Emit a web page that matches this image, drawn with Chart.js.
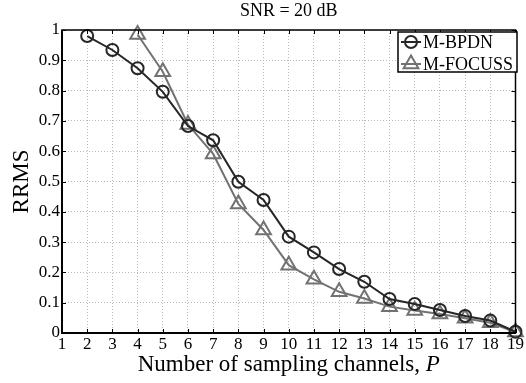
<!DOCTYPE html>
<html>
<head>
<meta charset="utf-8">
<script src="https://cdn.jsdelivr.net/npm/chart.js@4/dist/chart.umd.min.js"></script>
<style>
  body { margin: 0; background: #fff; }
  #wrap { width: 526px; height: 383px; }
</style>
</head>
<body>
<div id="wrap"><canvas id="myChart" width="526" height="383"></canvas></div>
<script>
// values
var bpdnP = [2, 3, 4, 5, 6, 7, 8, 9, 10, 11, 12, 13, 14, 15, 16, 17, 18, 19];
var bpdnY = [0.98, 0.934, 0.874, 0.796, 0.683, 0.636, 0.499, 0.439, 0.318, 0.266, 0.211, 0.169, 0.112, 0.096, 0.076, 0.056, 0.041, 0.004];
var focussP = [4, 5, 6, 7, 8, 9, 10, 11, 12, 13, 14, 15, 16, 17, 18, 19];
var focussY = [0.985, 0.862, 0.688, 0.591, 0.426, 0.34, 0.224, 0.177, 0.136, 0.114, 0.087, 0.074, 0.063, 0.049, 0.034, 0.003];
var seriesNames = ["M-BPDN", "M-FOCUSS"];
var titleText = "SNR = 20 dB";
var xTitle = "Number of sampling channels, ";
var yTitle = "RRMS";

var serif = "'Liberation Serif', 'DejaVu Serif', serif";
var darkCol = "#262626";
var greyCol = "#727272";

function toPoints(xs, ys) {
  var pts = [];
  for (var i = 0; i < xs.length; i++) pts.push({x: xs[i], y: ys[i]});
  return pts;
}

var extras = {
  id: "extras",
  afterDraw: function(chart) {
    var ctx = chart.ctx;
    var a = chart.chartArea;
    var xs = chart.scales.x, ys = chart.scales.y;
    ctx.save();
    // inward ticks
    ctx.strokeStyle = "#000";
    ctx.lineWidth = 1;
    xs.ticks.forEach(function(t) {
      var px = Math.round(xs.getPixelForValue(t.value)) + 0.5;
      ctx.beginPath();
      ctx.moveTo(px, a.bottom); ctx.lineTo(px, a.bottom - 4);
      ctx.moveTo(px, a.top); ctx.lineTo(px, a.top + 4);
      ctx.stroke();
    });
    ys.ticks.forEach(function(t) {
      var py = Math.round(ys.getPixelForValue(t.value)) + 0.5;
      ctx.beginPath();
      ctx.moveTo(a.left, py); ctx.lineTo(a.left + 4, py);
      ctx.moveTo(a.right, py); ctx.lineTo(a.right - 4, py);
      ctx.stroke();
    });
    // frame
    ctx.lineWidth = 1.5;
    ctx.strokeRect(a.left, a.top, a.right - a.left, a.bottom - a.top);
    ctx.lineWidth = 2;
    ctx.beginPath();
    ctx.moveTo(a.left, a.top); ctx.lineTo(a.left, a.bottom); ctx.lineTo(a.right, a.bottom);
    ctx.stroke();

    // title
    ctx.fillStyle = "#000";
    ctx.font = "18px " + serif;
    ctx.textAlign = "center";
    ctx.textBaseline = "middle";
    ctx.fillText(titleText, (a.left + a.right) / 2, 11);

    // x title with italic P
    ctx.font = "23px " + serif;
    var w1 = ctx.measureText(xTitle).width;
    ctx.font = "italic 23px " + serif;
    var w2 = ctx.measureText("P").width;
    var sx = (a.left + a.right) / 2 - (w1 + w2) / 2;
    ctx.textAlign = "left";
    ctx.font = "23px " + serif;
    ctx.fillText(xTitle, sx, 365);
    ctx.font = "italic 23px " + serif;
    ctx.fillText("P", sx + w1, 365);

    // y title
    ctx.save();
    ctx.translate(22, (a.top + a.bottom) / 2);
    ctx.rotate(-Math.PI / 2);
    ctx.textAlign = "center";
    ctx.font = "23px " + serif;
    ctx.fillText(yTitle, 0, 0);
    ctx.restore();

    // legend
    var lx = 398, ly = 32, lw = 119, lh = 40;
    ctx.fillStyle = "#fff";
    ctx.fillRect(lx, ly, lw, lh);
    ctx.strokeStyle = "#000";
    ctx.lineWidth = 1.5;
    ctx.strokeRect(lx, ly, lw, lh);
    chart.data.datasets.forEach(function(ds, i) {
      var cy = ly + 10 + i * 22;
      ctx.strokeStyle = ds.borderColor;
      ctx.lineWidth = 2;
      ctx.beginPath();
      ctx.moveTo(lx + 3, cy); ctx.lineTo(lx + 23, cy);
      ctx.stroke();
      ctx.fillStyle = "rgba(0,0,0,0)";
      Chart.helpers.drawPoint(ctx, {
        pointStyle: ds.pointStyle, radius: ds.pointRadius, borderWidth: 2
      }, lx + 13, cy);
      ctx.fillStyle = "#000";
      ctx.font = "18px " + serif;
      ctx.textAlign = "left";
      ctx.textBaseline = "middle";
      ctx.fillText(ds.label, lx + 25, cy + 1);
    });
    ctx.restore();
  }
};

new Chart("myChart", {
  type: "line",
  data: {
    datasets: [{
      label: seriesNames[0],
      data: toPoints(bpdnP, bpdnY),
      borderColor: darkCol,
      borderWidth: 2,
      pointStyle: "circle",
      pointRadius: 6,
      pointBorderWidth: 2,
      pointBorderColor: darkCol,
      pointBackgroundColor: "rgba(0,0,0,0)",
      clip: false
    }, {
      label: seriesNames[1],
      data: toPoints(focussP, focussY),
      borderColor: greyCol,
      borderWidth: 2,
      pointStyle: "triangle",
      pointRadius: 8.5,
      pointBorderWidth: 2,
      pointBorderColor: greyCol,
      pointBackgroundColor: "rgba(0,0,0,0)",
      clip: false
    }]
  },
  options: {
    responsive: false,
    animation: false,
    layout: { padding: { top: 30, right: 7, left: 0, bottom: 0 } },
    plugins: { legend: { display: false }, tooltip: { enabled: false } },
    scales: {
      x: {
        type: "linear", min: 1, max: 19,
        ticks: { stepSize: 1, color: "#000", padding: 1, maxRotation: 0, autoSkip: false,
                 font: { family: serif, size: 17 } },
        grid: { color: "#b8b8b8", lineWidth: 1, drawTicks: false },
        border: { display: false, dash: [1, 2] },
        afterFit: function(s) { s.height = 50; }
      },
      y: {
        min: 0, max: 1,
        ticks: { stepSize: 0.1, color: "#000", padding: 2,
                 font: { family: serif, size: 17 },
                 callback: function(v) { return String(+v.toFixed(1)); } },
        grid: { color: "#b8b8b8", lineWidth: 1, drawTicks: false },
        border: { display: false, dash: [1, 2] },
        afterFit: function(s) { s.width = 62; }
      }
    }
  },
  plugins: [extras]
});
</script>
</body>
</html>
